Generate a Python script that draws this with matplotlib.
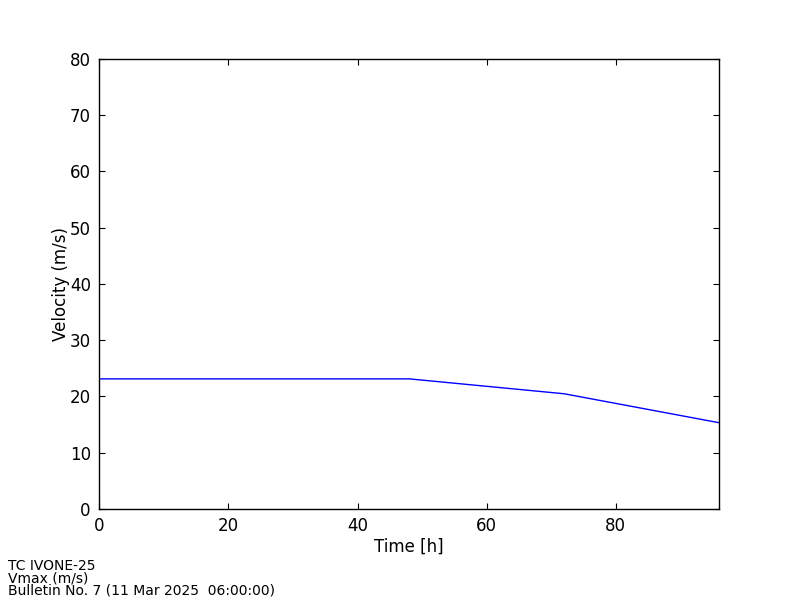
import matplotlib
matplotlib.use('Agg')
import matplotlib.pyplot as plt

# forecast time (h) and max wind speed (m/s)
hours = [0, 12, 24, 36, 48, 72, 96]
vmax = [23.1, 23.1, 23.1, 23.1, 23.1, 20.45, 15.3]

info = ['TC IVONE-25', 'Vmax (m/s)', 'Bulletin No. 7 (11 Mar 2025  06:00:00)']

fig = plt.figure(figsize=(8, 6), dpi=100)
ax = fig.add_axes([0.124, 0.152, 0.775, 0.75])

ax.plot(hours, vmax, color='blue', linewidth=1)
ax.set_xlim(0, 96)
ax.set_ylim(0, 80)
ax.set_xticks([0, 20, 40, 60, 80])
ax.set_yticks(range(0, 81, 10))
ax.tick_params(direction='in', top=True, right=True, labelsize=12, length=4, pad=6)
ax.set_xlabel('Time [h]', fontsize=12, labelpad=2)
ax.set_ylabel('Velocity (m/s)', fontsize=12, labelpad=0)
for s in ax.spines.values():
    s.set_linewidth(1)

fig.text(0.01, 0.004, '\n'.join(info), fontsize=10, va='bottom', ha='left', linespacing=0.85)

fig.savefig('out.png', dpi=100)
